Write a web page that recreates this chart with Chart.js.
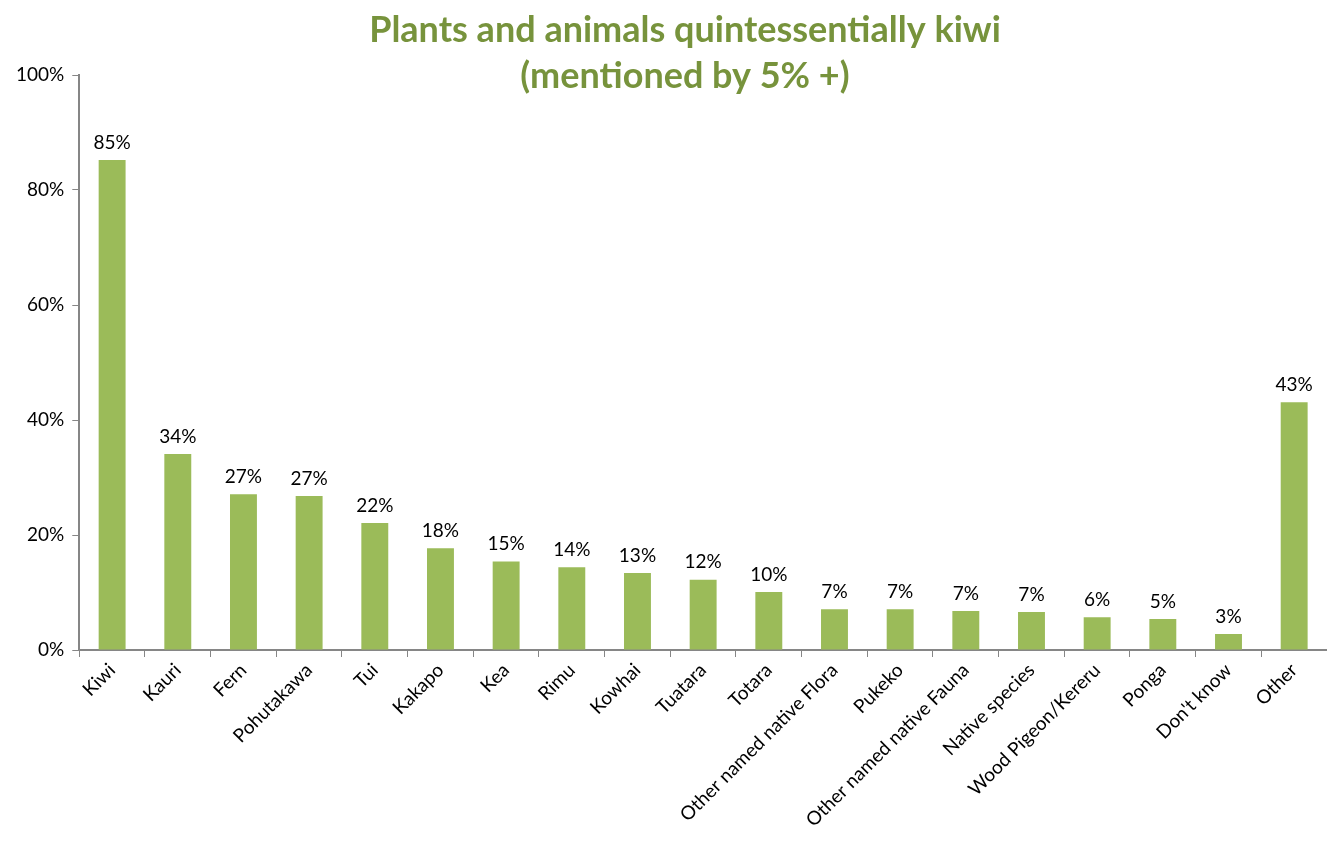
<!DOCTYPE html>
<html>
<head>
<meta charset="utf-8">
<script src="https://cdn.jsdelivr.net/npm/chart.js@4.4.1/dist/chart.umd.min.js"></script>
<style>
  html, body { margin: 0; padding: 0; background: #fff; }
  #wrap { width: 1327px; height: 847px; }
</style>
</head>
<body>
<div id="wrap"><canvas id="kiwiChart"></canvas></div>
<script>
// categories and values (share of respondents, %)
const categories = ['Kiwi', 'Kauri', 'Fern', 'Pohutakawa', 'Tui', 'Kakapo', 'Kea', 'Rimu', 'Kowhai', 'Tuatara',
    'Totara', 'Other named native Flora', 'Pukeko', 'Other named native Fauna', 'Native species',
    'Wood Pigeon/Kereru', 'Ponga', "Don't know", 'Other'];
const mentions = [85.2, 34.1, 27.1, 26.8, 22.1, 17.7, 15.4, 14.4, 13.4, 12.2,
    10.1, 7.1, 7.1, 6.8, 6.6, 5.7, 5.4, 2.8, 43.1];
const yTicks = [0, 20, 40, 60, 80, 100];
const titleLines = ['Plants and animals quintessentially kiwi', '(mentioned by 5% +)'];

const GREEN = '#9BBB59';
const TITLE_GREEN = '#77933C';
const AXIS_GREY = '#868686';
const FONT = 'Lato';

/* value labels above every bar */
const barLabels = {
    id: 'barLabels',
    afterDatasetsDraw: function (chart) {
        const ctx = chart.ctx;
        const meta = chart.getDatasetMeta(0);
        ctx.save();
        ctx.font = '19px ' + FONT;
        ctx.fillStyle = '#000';
        ctx.textAlign = 'center';
        ctx.textBaseline = 'bottom';
        meta.data.forEach(function (bar, i) {
            ctx.fillText(Math.round(mentions[i]) + '%', bar.x, bar.y - 8);
        });
        ctx.restore();
    }
};

/* title overlaps the top of the plot like the original, so draw it by hand */
const bigTitle = {
    id: 'bigTitle',
    afterDraw: function (chart) {
        const ctx = chart.ctx;
        ctx.save();
        ctx.font = 'bold 36px ' + FONT;
        ctx.fillStyle = TITLE_GREEN;
        ctx.textAlign = 'center';
        ctx.textBaseline = 'middle';
        ctx.fillText(titleLines[0], 685, 30);
        ctx.fillText(titleLines[1], 685, 76);
        ctx.restore();
    }
};

const ctx = document.getElementById('kiwiChart').getContext('2d');
const myChart = new Chart(ctx, {
    type: 'bar',
    data: {
        labels: categories,
        datasets: [{
            label: 'Mentioned',
            data: mentions,
            backgroundColor: GREEN,
            borderWidth: 0,
            categoryPercentage: 1,
            barPercentage: 0.41
        }]
    },
    options: {
        responsive: true,
        maintainAspectRatio: false,
        animation: false,
        layout: {
            padding: { top: 75, left: 8, right: 0, bottom: 0 }
        },
        plugins: {
            legend: { display: false },
            title: { display: false },
            tooltip: { enabled: false }
        },
        scales: {
            x: {
                afterFit: function (axis) {
                    axis.height = 197; // long labels run off the bottom, as in the original
                },
                border: { color: AXIS_GREY, width: 2 },
                grid: {
                    offset: true,
                    drawOnChartArea: false,
                    drawTicks: true,
                    tickLength: 7,
                    color: AXIS_GREY,
                    lineWidth: 1
                },
                ticks: {
                    color: '#000',
                    font: { family: FONT, size: 19 },
                    minRotation: 45,
                    maxRotation: 45,
                    autoSkip: false,
                    padding: 2
                }
            },
            y: {
                min: 0,
                max: 100,
                afterBuildTicks: function (axis) {
                    axis.ticks = yTicks.map(function (v) { return { value: v }; });
                },
                border: { color: AXIS_GREY, width: 2 },
                grid: {
                    drawOnChartArea: false,
                    drawTicks: true,
                    tickLength: 7,
                    color: AXIS_GREY
                },
                ticks: {
                    color: '#000',
                    font: { family: FONT, size: 19 },
                    padding: 8,
                    callback: function (v) { return v + '%'; }
                }
            }
        }
    },
    plugins: [barLabels, bigTitle]
});
</script>
</body>
</html>
